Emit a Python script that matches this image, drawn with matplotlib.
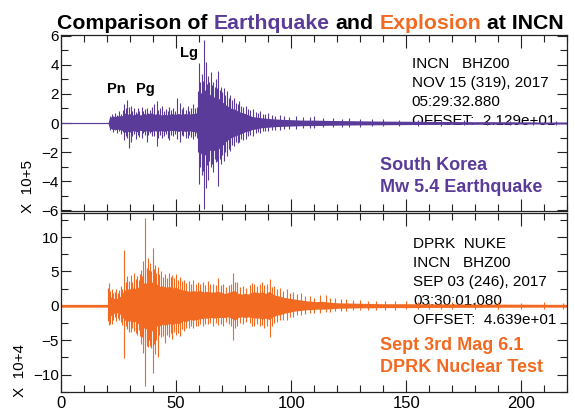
import matplotlib
matplotlib.use("Agg")
import matplotlib.pyplot as plt
from matplotlib.ticker import MultipleLocator

plt.rcParams['font.family'] = ['Liberation Sans', 'DejaVu Sans']

PURPLE = '#5b3b99'
ORANGE = '#f26a21'

# earthquake (top), amplitudes in units of 1e5
# eq_t / eq_hi / eq_lo: the dense core of the trace
eq_t = [0, 20.5, 21, 22, 23.5, 25, 26.5, 28, 29, 30, 31.5, 33, 34.5, 36, 37.5, 39, 40.5, 42,
        43.5, 45, 46.5, 48, 49.5, 51, 52.5, 54, 55.5, 57, 58.5, 59.5, 60.5, 61.5, 62.5, 63.5,
        64.5, 65.5, 66.5, 67.5, 68.5, 69.5, 70.5, 71.5, 72.5, 74, 75.5, 77, 78.5, 80, 81.5,
        83, 85, 87, 89, 91, 93, 96, 100, 105, 110, 115, 120, 130, 140, 150, 160, 170, 180,
        190, 200, 210, 220]
eq_hi = [0.04, 0.04,
         0.35, 0.45, 0.45, 0.5, 0.5, 0.7, 0.6, 0.65, 0.55, 0.65, 0.55, 0.65, 0.6, 0.7, 0.6,
         0.65, 0.55, 0.6, 0.55, 0.65, 0.6, 0.65, 0.6, 0.65, 0.6, 0.65, 0.65,
         0.9, 2.0, 2.2, 2.3, 1.9, 2.0, 1.8, 1.8, 1.6, 1.7, 1.5, 1.4, 1.25, 1.15, 1.0, 0.95,
         0.8, 0.72, 0.65, 0.55,
         0.45, 0.4, 0.36, 0.33, 0.3, 0.28, 0.25, 0.23, 0.2, 0.2, 0.18, 0.17, 0.15, 0.13,
         0.12, 0.11, 0.1, 0.09, 0.09, 0.08, 0.07, 0.07]
eq_lo = [-0.04, -0.04,
         -0.33, -0.4, -0.45, -0.42, -0.5, -0.65, -0.58, -0.62, -0.52, -0.6, -0.5, -0.58,
         -0.52, -0.6, -0.52, -0.58, -0.52, -0.58, -0.5, -0.52, -0.52, -0.58, -0.52, -0.58,
         -0.52, -0.58, -0.6,
         -0.9, -2.0, -2.3, -2.2, -2.0, -1.9, -1.8, -1.9, -1.7, -1.8, -1.5, -1.5, -1.3, -1.15,
         -1.0, -0.9, -0.8, -0.72, -0.6, -0.55,
         -0.45, -0.4, -0.33, -0.3, -0.28, -0.25, -0.23, -0.21, -0.18, -0.18, -0.16, -0.15,
         -0.13, -0.12, -0.11, -0.1, -0.09, -0.09, -0.08, -0.07, -0.07, -0.07]
# individual swings sticking out of the core
eq_spike_t = [21.3, 22.0, 22.8, 23.6, 24.4, 25.2, 26.0, 26.8, 27.5, 28.2,
              28.6, 29.4, 30.3, 31.0, 31.8, 32.5, 33.3, 34.1, 35.0, 35.8,
              36.5, 37.2, 38.0, 38.8, 39.6, 40.5, 41.5, 42.3, 43.1, 44.0,
              44.8, 45.6, 46.3, 47.0, 47.8, 48.6, 49.4, 50.5, 51.6, 52.4,
              53.2, 54.1, 55.0, 55.8, 56.6, 57.5, 58.3, 59.1, 59.7, 60.1,
              60.6, 61.2, 61.7, 62.1, 62.8, 63.3, 63.8, 64.4, 65.0, 65.6,
              66.2, 66.8, 67.3, 67.9, 68.4, 69.0, 69.5, 70.1, 70.8, 71.4,
              72.0, 72.8, 73.5, 74.3, 75.2, 76.0, 76.8, 77.5, 78.3, 79.2,
              80.2, 81.2, 82.3, 83.5, 84.6, 85.6, 86.5, 87.6, 88.7, 90.0,
              91.5, 93.0, 95.0, 97.0, 99.0, 102, 105, 108, 110, 114,
              118, 122, 125, 130, 135, 140, 147, 155, 165, 175,
              185, 195, 205, 215]
eq_spike_hi = [0.5, 0.65, 0.45, 0.7, 0.55, 0.8, 0.6, 0.9, 1.3, 1.0,
               1.6, 1.1, 1.2, 0.8, 1.0, 0.75, 1.0, 0.85, 1.1, 0.8,
               0.95, 1.0, 0.7, 0.9, 1.1, 1.3, 1.5, 0.9, 1.0, 1.2,
               0.85, 0.95, 0.8, 1.1, 0.9, 1.0, 0.85, 1.7, 1.4, 0.95,
               1.1, 0.9, 1.2, 0.85, 1.0, 1.3, 1.0, 1.1, 2.2, 4.1,
               2.8, 3.4, 2.9, 5.7, 4.2, 2.7, 3.2, 2.8, 3.5, 2.6,
               2.8, 2.5, 3.0, 2.4, 3.6, 2.3, 2.5, 2.1, 2.4, 1.9,
               2.2, 1.7, 1.9, 1.6, 1.7, 1.4, 1.3, 1.5, 1.2, 1.1,
               1.2, 0.95, 0.9, 0.95, 0.75, 0.7, 0.8, 0.65, 0.6, 0.7,
               0.55, 0.5, 0.55, 0.45, 0.42, 0.5, 0.4, 0.38, 0.45, 0.35,
               0.33, 0.3, 0.35, 0.28, 0.27, 0.25, 0.24, 0.22, 0.2, 0.2,
               0.18, 0.16, 0.15, 0.14]
eq_spike_lo = [-0.45, -0.4, -0.6, -0.5, -0.7, -0.55, -0.75, -0.6, -1.2, -0.9,
               -1.0, -1.7, -1.3, -0.9, -0.75, -1.1, -0.8, -0.95, -1.0, -0.7,
               -0.85, -1.3, -0.8, -0.7, -0.9, -0.9, -1.6, -1.0, -0.8, -1.0,
               -0.9, -0.75, -1.0, -1.2, -0.8, -0.9, -0.75, -1.1, -1.3, -0.85,
               -0.9, -1.0, -1.0, -0.8, -0.95, -1.1, -0.9, -1.0, -2.0, -4.2,
               -3.0, -3.6, -3.3, -5.9, -4.5, -2.9, -3.9, -2.6, -3.0, -2.8,
               -3.4, -2.5, -2.7, -2.6, -4.3, -2.5, -2.8, -2.2, -2.6, -2.0,
               -2.3, -1.8, -1.9, -1.5, -1.6, -1.3, -1.4, -1.3, -1.1, -1.2,
               -1.1, -0.9, -0.85, -0.9, -0.7, -0.65, -0.7, -0.55, -0.55, -0.55,
               -0.5, -0.45, -0.45, -0.4, -0.38, -0.4, -0.35, -0.33, -0.35, -0.3,
               -0.3, -0.28, -0.3, -0.25, -0.24, -0.22, -0.2, -0.2, -0.18, -0.17,
               -0.16, -0.15, -0.13, -0.12]

# explosion (bottom), amplitudes in units of 1e4
ex_t = [0, 20.3, 20.8, 21.5, 22.5, 23.5, 24.5, 25.5, 26.5, 27.5,
        28.5, 29.5, 30.5, 31.5, 32.5, 33.5, 34.5, 35.5, 36.5, 37.5,
        38.5, 39.5, 40.5, 41.5, 42.5, 44, 45.5, 47, 48.5, 50,
        51.5, 53, 54.5, 56, 57.5, 59, 60.5, 62, 63.5, 65,
        66.5, 68, 69.5, 71, 72.5, 74, 75.5, 77, 78.5, 80,
        81.5, 83, 84.5, 86, 87.5, 89, 90.5, 92, 93.5, 95,
        97, 99, 101, 103, 105, 107, 109, 111, 113, 115,
        118, 121, 125, 130, 135, 140, 150, 160, 170, 180,
        190, 200, 210, 220]
ex_hi = [0.2, 0.2, 1.5, 1.3, 1.1, 1.0, 1.1, 1.3, 1.7, 2.3,
         2.2, 2.6, 2.3, 2.7, 2.4, 2.7, 2.9, 3.2, 3.4, 3.2,
         3.3, 3.5, 3.0, 3.2, 2.8, 2.9, 2.7, 2.8, 2.6, 2.7,
         2.4, 2.3, 2.2, 2.1, 2.2, 2.1, 2.2, 2.0, 2.1, 2.0,
         2.0, 2.1, 2.0, 1.8, 1.9, 2.1, 2.2, 1.8, 1.7, 1.8,
         1.7, 2.0, 2.0, 1.9, 2.0, 1.8, 2.1, 1.7, 1.5, 1.4,
         1.2, 1.1, 1.0, 0.9, 0.8, 0.7, 0.65, 0.6, 0.65, 0.58,
         0.48, 0.42, 0.4, 0.36, 0.33, 0.3, 0.3, 0.27, 0.27, 0.24,
         0.24, 0.23, 0.21, 0.21]
ex_lo = [-0.2, -0.2, -1.3, -1.5, -1.1, -1.1, -1.0, -1.2, -1.5, -2.1,
         -2.1, -2.3, -2.1, -2.4, -2.2, -2.6, -2.8, -3.0, -3.4, -3.3,
         -3.0, -3.7, -3.2, -2.9, -3.0, -2.7, -2.8, -2.6, -2.7, -2.5,
         -2.6, -2.2, -2.3, -2.0, -2.1, -2.0, -1.9, -1.8, -1.8, -1.7,
         -1.8, -1.7, -1.7, -1.7, -1.6, -1.8, -2.1, -1.7, -1.6, -1.7,
         -1.6, -1.7, -1.8, -1.8, -1.9, -1.8, -2.0, -1.6, -1.4, -1.3,
         -1.1, -0.95, -0.8, -0.72, -0.65, -0.58, -0.54, -0.5, -0.5, -0.47,
         -0.42, -0.36, -0.33, -0.3, -0.3, -0.27, -0.27, -0.24, -0.24, -0.23,
         -0.21, -0.21, -0.2, -0.2]
ex_spike_t = [20.6, 20.9, 21.4, 22.0, 22.7, 23.4, 24.0, 24.7, 25.3, 26.0,
              26.7, 27.4, 28.1, 28.8, 29.5, 30.2, 31.0, 31.8, 32.4, 33.0,
              33.7, 34.3, 34.9, 35.4, 35.8, 36.3, 36.7, 37.2, 37.6, 38.1,
              38.6, 39.2, 39.9, 40.4, 40.8, 41.4, 42.0, 42.7, 43.5, 44.3,
              45.2, 46.0, 46.8, 47.6, 48.4, 49.2, 50.0, 50.9, 51.8, 52.7,
              53.6, 54.5, 55.5, 56.5, 57.5, 58.5, 59.6, 60.5, 61.5, 62.6,
              63.7, 64.8, 66.0, 67.2, 68.4, 69.5, 70.5, 71.6, 72.8, 73.8,
              74.9, 75.7, 76.5, 77.6, 79.0, 80.4, 82.0, 83.0, 84.0, 85.2,
              86.5, 87.4, 88.3, 89.5, 90.8, 91.6, 92.5, 93.7, 95.0, 96.5,
              98.0, 99.5, 101.0, 102.7, 104.5, 106.2, 108.0, 110.0, 112.5, 115.0,
              117.0, 119.0, 121.5, 124.0, 127.0, 130.0, 133.5, 137.0, 141.0, 145.0,
              150.0, 155.0, 160.0, 165.0, 170.0, 180.0, 190.0, 200.0, 210.0, 218.0]
ex_spike_hi = [2.6, 3.3, 2.2, 2.5, 1.8, 2.0, 2.4, 1.9, 2.3, 2.9,
               2.5, 8.1, 3.5, 4.4, 3.6, 4.5, 3.4, 4.8, 3.9, 4.3,
               3.8, 4.6, 5.2, 4.4, 6.5, 5.0, 12.7, 5.5, 7.0, 5.2,
               6.2, 5.0, 8.4, 5.4, 6.0, 4.8, 5.7, 4.6, 5.0, 4.2,
               4.6, 4.0, 4.8, 4.2, 4.5, 4.0, 4.6, 3.8, 4.2, 3.6,
               3.8, 3.3, 3.6, 3.2, 3.7, 3.1, 3.5, 3.2, 3.4, 3.0,
               3.6, 3.1, 3.2, 3.0, 4.0, 3.0, 3.1, 2.8, 3.0, 3.2,
               4.8, 3.5, 3.4, 2.8, 2.9, 2.6, 3.0, 3.3, 3.2, 2.9,
               3.1, 3.4, 3.0, 3.2, 3.9, 2.8, 2.9, 2.5, 2.6, 2.2,
               2.4, 1.9, 2.0, 1.7, 1.8, 1.4, 1.4, 1.2, 1.5, 1.6,
               1.1, 1.1, 0.95, 1.0, 0.85, 0.9, 0.75, 0.75, 0.7, 0.7,
               0.65, 0.6, 0.55, 0.6, 0.55, 0.5, 0.5, 0.45, 0.5, 0.45]
ex_spike_lo = [-2.2, -2.8, -2.6, -2.6, -2.0, -1.7, -2.2, -1.8, -2.0, -2.3,
               -2.8, -7.6, -3.0, -3.4, -3.8, -3.8, -3.2, -3.6, -4.0, -4.2,
               -3.5, -4.4, -5.5, -4.6, -6.8, -5.3, -11.7, -5.8, -6.0, -5.0,
               -5.8, -6.2, -9.8, -5.5, -7.0, -5.0, -7.4, -4.2, -4.6, -4.4,
               -5.4, -4.2, -4.5, -4.0, -4.8, -3.8, -4.3, -4.0, -4.4, -3.4,
               -3.6, -3.2, -3.2, -3.0, -3.3, -2.9, -3.0, -2.7, -3.0, -2.6,
               -2.7, -2.5, -3.0, -2.5, -2.8, -2.6, -2.9, -2.4, -2.6, -3.0,
               -5.0, -3.3, -3.0, -2.5, -2.7, -2.4, -2.5, -2.9, -3.0, -2.7,
               -2.9, -2.8, -3.2, -3.0, -4.5, -2.9, -2.5, -2.3, -2.1, -2.0,
               -2.0, -1.7, -1.6, -1.4, -1.3, -1.2, -1.1, -1.0, -1.0, -0.9,
               -0.9, -0.8, -0.75, -0.7, -0.65, -0.6, -0.6, -0.6, -0.55, -0.55,
               -0.5, -0.5, -0.5, -0.45, -0.5, -0.45, -0.45, -0.4, -0.45, -0.4]

top_box = ['INCN   BHZ00', 'NOV 15 (319), 2017', '05:29:32.880', 'OFFSET:  2.129e+01']
bot_box = ['DPRK  NUKE', 'INCN   BHZ00', 'SEP 03 (246), 2017', '03:30:01.080',
           'OFFSET:  4.639e+01']

fig = plt.figure(figsize=(5.75, 4.09), dpi=100)
ax1 = fig.add_axes([0.1061, 0.4841, 0.8805, 0.4303])
ax2 = fig.add_axes([0.1061, 0.0423, 0.8805, 0.4362])


def draw_trace(ax, t, hi, lo, st, shi, slo, color):
    ax.fill_between(t, lo, hi, color=color, lw=0, zorder=2)
    ax.vlines(st, slo, shi, color=color, lw=0.8, zorder=2)


def style(ax):
    ax.set_xlim(0, 220)
    ax.xaxis.set_major_locator(MultipleLocator(50))
    ax.xaxis.set_minor_locator(MultipleLocator(10))
    ax.tick_params(which='both', direction='in', top=True, right=True, color='#222222',
                   width=0.8, labelsize=11)
    ax.tick_params(axis='x', which='major', length=9, pad=3, labelsize=12)
    ax.tick_params(axis='x', which='minor', length=5)
    ax.tick_params(axis='y', which='major', length=7, pad=1.5)
    ax.tick_params(axis='y', which='minor', length=5)
    for s in ax.spines.values():
        s.set_linewidth(0.9)
        s.set_color('#222222')


draw_trace(ax1, eq_t, eq_hi, eq_lo, eq_spike_t, eq_spike_hi, eq_spike_lo, PURPLE)
style(ax1)
ax1.set_ylim(-6.05, 6.05)
ax1.yaxis.set_major_locator(MultipleLocator(2))
ax1.yaxis.set_minor_locator(MultipleLocator(1))
ax1.tick_params(axis='x', labelbottom=False)

draw_trace(ax2, ex_t, ex_hi, ex_lo, ex_spike_t, ex_spike_hi, ex_spike_lo, ORANGE)
style(ax2)
ax2.set_ylim(-12.5, 13.45)
ax2.yaxis.set_major_locator(MultipleLocator(5))
ax2.yaxis.set_minor_locator(MultipleLocator(2.5))

# phase picks
for lbl, x, y in [('Pn', 20.1, 2.04), ('Pg', 32.6, 2.04), ('Lg', 51.7, 4.52)]:
    ax1.text(x, y, lbl, fontsize=10.5, fontweight='bold', va='baseline', zorder=3)

# header boxes
for i, line in enumerate(top_box):
    ax1.text(152.4, 3.76 - i * 1.30, line, fontsize=11, va='baseline', zorder=1)
for i, line in enumerate(bot_box):
    ax2.text(153.1, 8.44 - i * 2.76, line, fontsize=11, va='baseline', zorder=1)

ax1.text(138.4, -3.25, 'South Korea', fontsize=13, fontweight='bold', color=PURPLE,
         va='baseline')
ax1.text(138.4, -4.72, 'Mw 5.4 Earthquake', fontsize=13, fontweight='bold', color=PURPLE,
         va='baseline')
ax2.text(138.4, -6.45, 'Sept 3rd Mag 6.1', fontsize=13, fontweight='bold', color=ORANGE,
         va='baseline')
ax2.text(138.4, -9.62, 'DPRK Nuclear Test', fontsize=13, fontweight='bold', color=ORANGE,
         va='baseline')

fig.text(28 / 575, 1 - 213 / 409, 'X  10+5', rotation=90, fontsize=11, ha='center',
         va='bottom')
fig.text(20 / 575, 1 - 397 / 409, 'X  10+4', rotation=90, fontsize=11, ha='center',
         va='bottom')

# title with coloured words, each piece placed right after the previous one
pieces = [('Comparison of', 'black'), ('Earthquake', PURPLE), ('and', 'black'),
          ('Explosion', ORANGE), ('at INCN', 'black')]
tsize = 15.3
prev = fig.text(57 / 575, 1 - 32.8 / 409, pieces[0][0], fontsize=tsize, fontweight='bold',
                color=pieces[0][1], va='bottom')
for word, col in pieces[1:]:
    prev = ax1.annotate(word, xy=(1, 0), xycoords=prev, xytext=(tsize * 0.278, 0),
                        textcoords='offset points', ha='left', va='bottom',
                        fontsize=tsize, fontweight='bold', color=col,
                        annotation_clip=False)

fig.savefig('out.png', dpi=100)
